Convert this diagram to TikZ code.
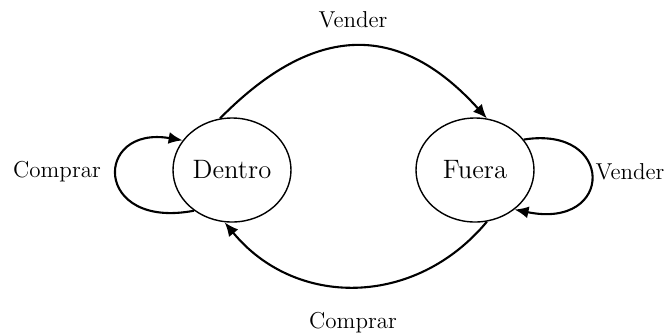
\documentclass[tikz,border=0pt]{standalone}
\usetikzlibrary{arrows.meta,shapes.geometric}
\begin{document}
\begin{tikzpicture}[x=0.5pt,y=-0.5pt,
  state/.style={draw,ellipse,line width=0.7pt,inner sep=0pt,minimum width=59pt,minimum height=52pt,font=\fontsize{13.3}{16}\selectfont},
  lbl/.style={font=\fontsize{11.5}{14}\selectfont},
  trans/.style={line width=1.05pt,-{Latex[length=7pt,width=6pt]}}]
\useasboundingbox (0,0) rectangle (669,334);
\node[state] (D) at (232,170) {Dentro};
\node[state] (F) at (475,170) {Fuera};
\node[lbl] (l1) at (353,20) {Vender};
\node[lbl] (l2) at (353,323) {Comprar};
\node[lbl] (l3) at (57,172) {Comprar};
\node[lbl] (l4) at (630,172) {Vender};
\draw[trans] (D.103) .. controls (315,22) and (400,22) .. (F.77);
\draw[trans] (F.-77) .. controls (415,308) and (295,308) .. (D.-98);
\draw[trans] (D.-133) .. controls (93,230) and (93,125) .. (D.149);
\draw[trans] (F.32) .. controls (615,125) and (615,230) .. (F.-45);
\end{tikzpicture}
\end{document}
